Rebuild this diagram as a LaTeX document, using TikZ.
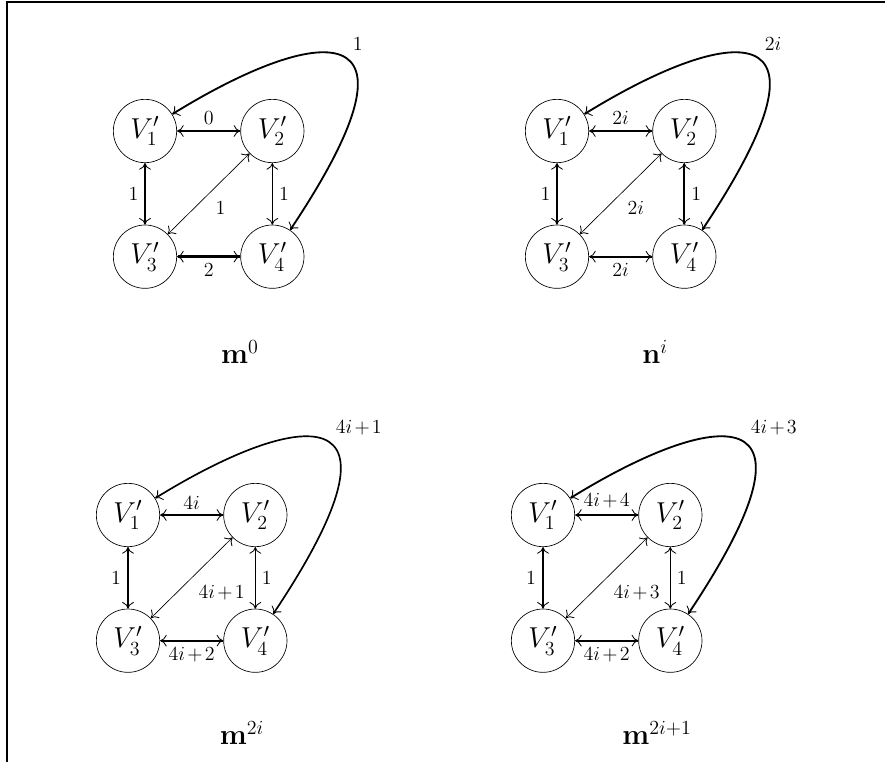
\documentclass[tikz,border=0pt]{standalone}
\usepackage{amsmath}
\usepackage{tikz}
\usetikzlibrary{arrows.meta, positioning}
\newcommand{\pl}{\mskip2mu{+}\mskip2mu}
\tikzset{
  vert/.style={circle, draw, line width=0.4pt, minimum size=38pt,
               inner sep=0pt, font=\fontsize{17}{20}\selectfont},
  link/.style={<->, >={Computer Modern Rightarrow[length=4pt, width=7pt, line width=0.5pt]},
               line width=#1},
  link/.default=0.8pt,
  wlabel/.style={font=\fontsize{12.5}{15}\selectfont, inner sep=1.5pt},
  diaglabel/.style={wlabel, anchor=north west, xshift=2.5pt, yshift=-3pt},
  capt/.style={font=\LARGE},
}

\begin{document}
\begin{tikzpicture}[x=0.6pt, y=-0.6pt, node distance=37pt and 38pt]
  \useasboundingbox (0,0) rectangle (885,762);
  \draw[line width=0.8pt] (885,2) -- (7,2) -- (7,762);

  % m^0
  \node[vert] (a1) at (145,131) {$V'_1$};
  \node[vert, right=of a1] (a2) {$V'_2$};
  \node[vert, below=of a1] (a3) {$V'_3$};
  \node[vert, right=of a3] (a4) {$V'_4$};
  \draw[link=0.8pt] (a1) -- node[wlabel, above=2pt] {$0$} (a2);
  \draw[link=1pt]   (a1) -- node[wlabel, left=2pt] {$1$} (a3);
  \draw[link=1pt]   (a2) -- node[wlabel, right=2pt] {$1$} (a4);
  \draw[link=1.6pt] (a3) -- node[wlabel, below=2pt] {$2$} (a4);
  \draw[link=0.4pt] (a2) -- node[diaglabel] {$1$} (a3);
  \draw[link=1.1pt] (a1) .. controls +(170,-105) and +(167,-250) .. (a4);
  \node[wlabel, anchor=west] (a5) at ([shift={(205,-87)}]a1) {$1$};
  \node[capt] (a6) at (240,352) {$\mathbf{m}^{0}$};

  % n^i
  \node[vert] (b1) at (557,131) {$V'_1$};
  \node[vert, right=of b1] (b2) {$V'_2$};
  \node[vert, below=of b1] (b3) {$V'_3$};
  \node[vert, right=of b3] (b4) {$V'_4$};
  \draw[link=1pt]   (b1) -- node[wlabel, above=2pt] {$2i$} (b2);
  \draw[link=1pt]   (b1) -- node[wlabel, left=2pt] {$1$} (b3);
  \draw[link=1.3pt] (b2) -- node[wlabel, right=2pt] {$1$} (b4);
  \draw[link=1.3pt] (b3) -- node[wlabel, below=2pt] {$2i$} (b4);
  \draw[link=0.4pt] (b2) -- node[diaglabel] {$2i$} (b3);
  \draw[link=1.1pt] (b1) .. controls +(170,-105) and +(167,-250) .. (b4);
  \node[wlabel, anchor=west] (b5) at ([shift={(205,-87)}]b1) {$2i$};
  \node[capt] (b6) at (655,352) {$\mathbf{n}^{i}$};

  % m^{2i}
  \node[vert] (c1) at (128,515) {$V'_1$};
  \node[vert, right=of c1] (c2) {$V'_2$};
  \node[vert, below=of c1] (c3) {$V'_3$};
  \node[vert, right=of c3] (c4) {$V'_4$};
  \draw[link=1.3pt] (c1) -- node[wlabel, above=1pt] {$4i$} (c2);
  \draw[link=1.4pt] (c1) -- node[wlabel, left=2pt] {$1$} (c3);
  \draw[link=0.8pt] (c2) -- node[wlabel, right=2pt] {$1$} (c4);
  \draw[link=1pt]   (c3) -- node[wlabel, below=2pt] {$4i\pl2$} (c4);
  \draw[link=0.4pt] (c2) -- node[diaglabel] {$4i\pl1$} (c3);
  \draw[link=1pt]   (c1) .. controls +(170,-105) and +(167,-250) .. (c4);
  \node[wlabel, anchor=west] (c5) at ([shift={(205,-87)}]c1) {$4i\pl1$};
  \node[capt] (c6) at (242,733) {$\mathbf{m}^{2i}$};

  % m^{2i+1}
  \node[vert] (d1) at (543,515) {$V'_1$};
  \node[vert, right=of d1] (d2) {$V'_2$};
  \node[vert, below=of d1] (d3) {$V'_3$};
  \node[vert, right=of d3] (d4) {$V'_4$};
  \draw[link=1.3pt] (d1) -- node[wlabel, above=2pt] {$4i\pl4$} (d2);
  \draw[link=1.4pt] (d1) -- node[wlabel, left=2pt] {$1$} (d3);
  \draw[link=0.8pt] (d2) -- node[wlabel, right=2pt] {$1$} (d4);
  \draw[link=1pt]   (d3) -- node[wlabel, below=2pt] {$4i\pl2$} (d4);
  \draw[link=0.4pt] (d2) -- node[diaglabel] {$4i\pl3$} (d3);
  \draw[link=1.1pt] (d1) .. controls +(170,-105) and +(167,-250) .. (d4);
  \node[wlabel, anchor=west] (d5) at ([shift={(205,-87)}]d1) {$4i\pl3$};
  \node[capt] (d6) at (657,733) {$\mathbf{m}^{2i+1}$};
\end{tikzpicture}
\end{document}
